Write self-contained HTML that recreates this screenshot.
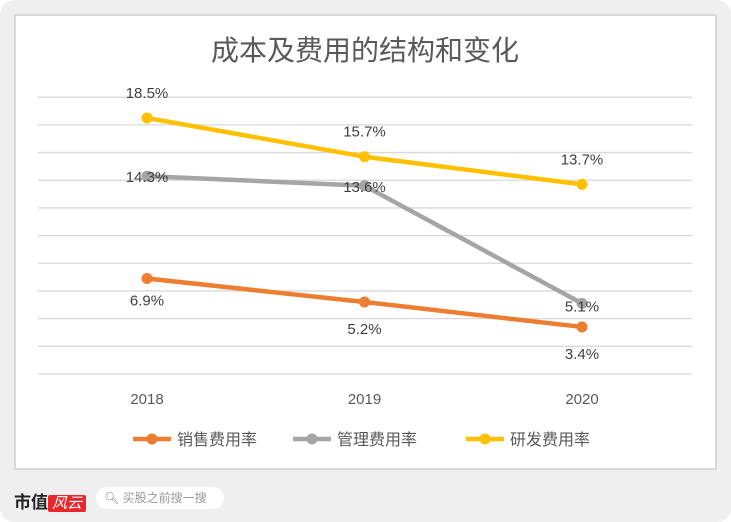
<!DOCTYPE html>
<html><head><meta charset="utf-8">
<style>
body{margin:0;width:731px;height:522px;overflow:hidden;background:#fff;font-family:"Liberation Sans","Noto Sans CJK SC",sans-serif;}
#bg{position:absolute;left:0;top:0;width:731px;height:522px;background:#efefef;border-radius:14px;}
#card{position:absolute;left:14px;top:14px;width:699px;height:452px;background:#fff;border:2px solid #d9d9d9;}
svg{position:absolute;left:0;top:0;}
#logo{position:absolute;left:14px;top:488px;font-size:17px;font-weight:bold;color:#222;}
#logo span{background:#e8262b;color:#fff;font-style:italic;font-weight:normal;padding:0 4px;border-radius:2px;font-size:15px;}
#search{position:absolute;left:96px;top:487px;width:128px;height:22px;background:#fff;border-radius:11px;font-size:12px;color:#999;line-height:22px;}
</style></head><body>
<div id="bg"></div>
<div id="card"></div>
<svg id="chart" width="731" height="522"></svg>
<div id="logo">市值<span>风云</span></div>
<div id="search"><span style="margin-left:8px;color:#888">&#x1F50D;&#xFE0E;</span> 买股之前搜一搜</div>
<script>
const categories=["2018","2019","2020"];
const seriesNames=["销售费用率","管理费用率","研发费用率"];
const sales=[6.9,5.2,3.4];
const admin=[14.3,13.6,5.1];
const rnd=[18.5,15.7,13.7];
const colors=["#ed7d31","#a5a5a5","#ffc000"];
const svg=document.getElementById('chart');
const NS="http://www.w3.org/2000/svg";
function mk(t,a,txt){const e=document.createElementNS(NS,t);for(const k in a)e.setAttribute(k,a[k]);if(txt!==undefined)e.textContent=txt;svg.appendChild(e);return e;}
const y=v=>374-v*13.84;
const x=i=>147+i*217.5;
for(let g=0;g<=20;g+=2){const l=mk('line',{x1:38,x2:692,y1:y(g),y2:y(g),stroke:'#d9d9d9','stroke-width':1.3});
}
const t=mk('text',{x:365,y:60,'text-anchor':'middle','font-size':28,fill:'#595959'},'成本及费用的结构和变化');

categories.forEach((c,i)=>{const e=mk('text',{x:x(i),y:404,'text-anchor':'middle','font-size':15,fill:'#595959'},c);
});
const all=[sales,admin,rnd];
const offs=[[ [0,27],[0,32],[0,32] ],[ [0,6],[0,6],[0,8] ],[ [0,-20],[0,-20],[0,-20] ]];
all.forEach((s,si)=>{
const p=mk('polyline',{points:s.map((v,i)=>x(i)+','+y(v)).join(' '),fill:'none',stroke:colors[si],'stroke-width':4.5});

s.forEach((v,i)=>{const c=mk('circle',{cx:x(i),cy:y(v),r:5.5,fill:colors[si]});

const l=mk('text',{x:x(i)+offs[si][i][0],y:y(v)+offs[si][i][1],'text-anchor':'middle','font-size':15,fill:'#404040'},v.toFixed(1)+'%');
});
});
const lx=[133,293,466];
seriesNames.forEach((n,i)=>{
const l=mk('line',{x1:lx[i],x2:lx[i]+38,y1:439,y2:439,stroke:colors[i],'stroke-width':4.5});

const c=mk('circle',{cx:lx[i]+19,cy:439,r:5.5,fill:colors[i]});

const tx=mk('text',{x:lx[i]+44,y:445,'font-size':16,fill:'#595959'},n);

});
</script>
</body></html>
